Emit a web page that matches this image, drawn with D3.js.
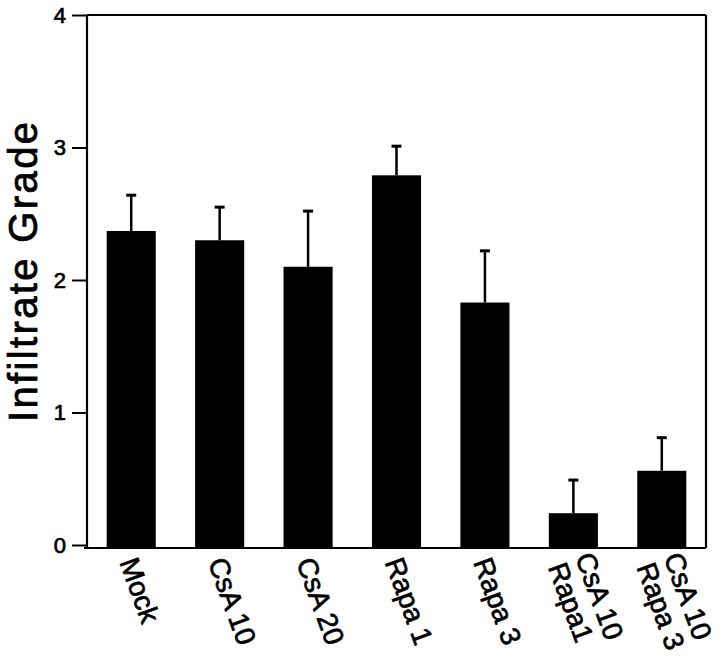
<!DOCTYPE html>
<html><head><meta charset="utf-8">
<script src="https://cdn.jsdelivr.net/npm/d3@7"></script>
<style>html,body{margin:0;padding:0;background:#fff;}svg{display:block;}</style>
</head><body>
<svg id="chart" width="720" height="667"></svg>
<script>
const categories = [["Mock"],["CsA 10"],["CsA 20"],["Rapa 1"],["Rapa 3"],["CsA 10","Rapa1"],["CsA 10","Rapa 3"]];
const means = [2.37, 2.30, 2.10, 2.79, 1.83, 0.24, 0.56];
const errors = [0.27, 0.25, 0.42, 0.22, 0.39, 0.25, 0.25];
const yTicks = [0, 1, 2, 3, 4];
const yLabel = "Infiltrate Grade";

(function () {
const svg = d3.select("#chart");
const pLeft = 87, pRight = 706, pTop = 15, zeroY = 545, pBottom = 548;
const font = "'Liberation Sans', Arial, Helvetica, sans-serif";

const x = d3.scaleBand().domain(d3.range(categories.length)).range([pLeft, pRight]).paddingInner(0.445).paddingOuter(0.2225);
const y = d3.scaleLinear().domain([0, 4]).range([zeroY, pTop]);

// bars
svg.append("g").selectAll("rect").data(means).join("rect")
  .attr("x", (d,i) => x(i)).attr("width", x.bandwidth())
  .attr("y", d => y(d)).attr("height", d => pBottom - y(d))
  .attr("fill", "#000");

// error bars
const eg = svg.append("g").attr("stroke", "#000");
eg.selectAll("line.v").data(means).join("line").attr("class","v")
  .attr("x1", (d,i) => x(i) + x.bandwidth()/2).attr("x2", (d,i) => x(i) + x.bandwidth()/2)
  .attr("y1", d => y(d)).attr("y2", (d,i) => y(d + errors[i]))
  .attr("stroke-width", 2.5);
eg.selectAll("line.c").data(means).join("line").attr("class","c")
  .attr("x1", (d,i) => x(i) + x.bandwidth()/2 - 5).attr("x2", (d,i) => x(i) + x.bandwidth()/2 + 5)
  .attr("y1", (d,i) => y(d + errors[i])).attr("y2", (d,i) => y(d + errors[i]))
  .attr("stroke-width", 3);

// y axis
const yAxis = svg.append("g").attr("transform", `translate(${pLeft},0)`)
  .call(d3.axisLeft(y).tickValues(yTicks).tickSize(15).tickPadding(6).tickFormat(d3.format("d")));
yAxis.select(".domain").remove();
yAxis.selectAll(".tick line").attr("stroke", "#000").attr("stroke-width", 2);
yAxis.selectAll(".tick text").attr("font-family", font).attr("font-size", 22).attr("fill", "#000")
  .attr("stroke", "#000").attr("stroke-width", 0.7);

// frame
const fg = svg.append("g").attr("stroke", "#000").attr("stroke-width", 2.2).attr("fill", "none");
fg.append("line").attr("x1", pLeft).attr("x2", pLeft).attr("y1", pTop).attr("y2", pBottom);
fg.append("line").attr("x1", pLeft).attr("x2", pRight).attr("y1", pTop).attr("y2", pTop);
fg.append("line").attr("x1", pRight).attr("x2", pRight).attr("y1", pTop).attr("y2", pBottom);
fg.append("line").attr("x1", pLeft - 3).attr("x2", pRight).attr("y1", pBottom).attr("y2", pBottom);

// x labels
const lh = 29;
svg.append("g").selectAll("text").data(categories).join("text")
  .attr("transform", (d,i) => `translate(${x(i) + x.bandwidth()/2 - 12},${pBottom + 14}) rotate(70)`)
  .attr("font-family", font).attr("font-size", 28).attr("fill", "#000")
  .attr("stroke", "#000").attr("stroke-width", 0.7)
  .each(function(d) {
    const t = d3.select(this);
    d.forEach((line, k) => {
      t.append("tspan").attr("x", 0).attr("y", (k - (d.length - 1)/2) * lh).text(line);
    });
  });

// y label
svg.append("text")
  .attr("transform", `translate(37,272) rotate(-90)`)
  .attr("text-anchor", "middle")
  .attr("font-family", font).attr("font-size", 40).attr("fill", "#000")
  .attr("stroke", "#000").attr("stroke-width", 0.8)
  .attr("textLength", 300).attr("lengthAdjust", "spacing")
  .text(yLabel);
})();
</script>
</body></html>
